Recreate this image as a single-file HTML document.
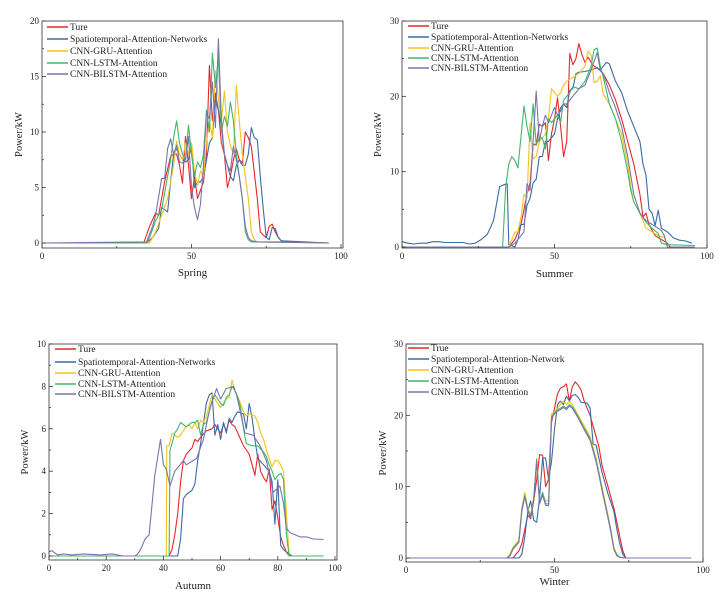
<!DOCTYPE html>
<html><head><meta charset="utf-8">
<style>
html,body{margin:0;padding:0;background:#fff;}
svg{display:block;font-family:"Liberation Serif",serif;}
</style></head>
<body>
<svg id="chart" width="727" height="594" viewBox="0 0 727 594" xmlns="http://www.w3.org/2000/svg"></svg>
<script>
// ---------- data (x = time index, y = power kW) ----------
const seriesNames = ["Ture","Spatiotemporal-Attention-Networks","CNN-GRU-Attention","CNN-LSTM-Attention","CNN-BILSTM-Attention"];
const winterNames = ["True","Spatiotemporal-Attention-Network","CNN-GRU-Attention","CNN-LSTM-Attention","CNN-BILSTM-Attention"];
const seriesColors = ["#e8262a","#3b6ba5","#f5c21b","#3fb86b","#7b74ac"];

// Spring
const springTrueX = [0,34,36,38,39,41,43,44,45,46,47,48,49,50,51,52,54,55,56,57,58,59,60,61,62,63,64,65,66,67,68,69,70,72,73,74,75,76,77,78,79,80,82,96];
const springTrueY = [0,0,1.5,2.7,2.5,5.5,7.8,8,8,7,5.4,9.6,7,4,6,4,5.5,8,16,11,13.5,12,9,8,5,6,7.5,8.5,7.5,7.2,10,9.5,8.7,4,1,0.7,0.5,1.5,1.7,1,0.5,0.2,0.1,0];
const springSTANX = [0,35,37,39,40,41,42,43,44,45,46,47,48,49,50,51,52,53,54,55,56,57,58,59,60,61,62,63,64,65,66,67,68,69,70,71,72,73,74,75,76,77,78,79,80,96];
const springSTANY = [0,0,0.5,1.3,3.2,3,2.8,5.5,8,8.5,8,7.5,7.3,7.5,9,5,5.5,5.5,6,7.5,9,9.5,13,12,10.5,8,7,6,5.6,7,7.5,7,7,8,10.4,9.5,9.3,6,3,0.5,0.3,1.4,1.3,0.5,0.2,0];
const springGRUX = [0,36,38,40,42,44,45,46,47,48,49,50,51,52,53,54,55,56,57,58,59,60,61,62,63,64,65,66,67,68,69,70,71,72,96];
const springGRUY = [0,0,1,2.5,4,7,9.2,8,7.5,9,8,9,6.5,5.2,6.5,6,9,11,9.5,15.5,13,11,13.7,10,8.8,8,14.2,11,8,6,4,1,0.3,0.1,0];
const springLSTMX = [0,35,36,38,40,42,43,44,45,46,47,48,49,50,51,52,53,54,55,56,57,58,59,60,61,62,63,64,65,66,67,68,69,70,82];
const springLSTMY = [0,0,0.5,2,3,6,7.5,9.5,11,9,8,7.5,10.6,8,6,7.3,6.8,8,12,10,17.1,14,16.8,10,11.4,10.5,12.7,11,8,6,4,1,0.3,0.1,0.1];
const springBiX = [0,35,37,38,40,41,42,43,44,45,46,47,48,49,50,51,52,53,54,55,56,57,58,59,60,61,62,63,64,65,66,67,68,69,70,72,96];
const springBiY = [0,0.1,1.5,2.5,5.8,5.8,8.5,9.4,8,8.8,7.3,7.2,7.5,9.6,5,3.2,2.1,3.5,7,11.7,11.2,14.5,10.4,18.4,11,8,7,6.5,8.7,7.5,6,4,1.5,0.5,0.2,0.1,0];

// Summer
const summerTrueX = [0,35,37,39,40,41,42,43,44,45,46,47,48,49,50,51,52,53,54,55,56,57,58,59,60,61,62,63,64,66,68,70,72,74,76,78,79,80,81,83,85,87,88,96];
const summerTrueY = [0,0,1,3,5,7,8.5,13.7,13.5,16.3,16,16.5,11.5,15,17,19.8,16,12,14,25.7,24.2,25,27,25.5,24.5,25.2,24.5,24,23.8,23,21.5,19.5,17,14,11,7,4,4.5,3,1.5,1,0.5,0,0];
const summerSTANX = [0,2,4,6,8,10,12,14,16,18,20,22,24,26,28,30,32,33,34.5,35,37,38,39,40,41,42,43,44,45,46,47,48,49,50,51,52,53,54,55,56,57,58,60,62,64,65,67,68,70,72,74,76,78,79,80,81,82,83,84,85,87,89,91,93,95];
const summerSTANY = [0.7,0.5,0.4,0.5,0.5,0.7,0.7,0.6,0.6,0.6,0.6,0.4,0.5,1,1.7,3.5,8,8.2,8.4,0.3,0,1,3,3,5.5,6.5,8.5,9,12,12,14,14,14.5,15,17,18.5,19,18.5,20.8,21,23,23.2,23.3,23.5,23.8,23.5,24.5,24.3,22,20.5,18,16,14,11,9.5,5,4.5,2.8,4.9,2.5,2,1.2,0.9,0.8,0.5];
const summerGRUX = [0,35,36,37,38,39,40,41,42,43,44,45,46,47,48,49,50,51,52,53,54,56,58,60,61,62,63,64,65,66,68,70,72,74,75,76,78,80,82,84,86,87,96];
const summerGRUY = [0,0,1,2,2,4,7,6.5,16.5,11.7,12,14,14.5,15,17,21,20.5,20,20.5,21.5,22,22.5,23,24,26,25.5,21.8,22,22.7,20.3,19,17,15,11,8,6,4.5,2.5,2,1.5,1.3,0,0];
const summerLSTMX = [0,33,34,35,36,37,38,40,41,42,43,44,45,46,47,48,49,50,51,52,53,54,55,56,58,60,62,63,64,65,66,68,70,72,74,75,76,78,80,82,84,85,87,96];
const summerLSTMY = [0,0,8,11,12,11.5,10.5,18.7,16,14,19,13.5,14.5,14.5,13,17,16.5,17,17.5,16.5,19.5,20,20.5,21.3,21,22,24,26.2,26.4,24,22.5,19,17,14,10,7.5,6,4.5,3.3,2.5,1.8,0.5,0.3,0.2];
const summerBiX = [0,35,37,40,41,42,44,45,46,47,48,49,50,51,52,53,54,55,56,57,58,60,62,64,65,66,68,70,72,74,76,78,80,82,84,85,86,87,96];
const summerBiY = [0,0,0.5,2,8.4,7.5,20.7,14,16,17.5,16.5,17.5,18.5,17.5,18,19,19,19.5,20,20.5,21,21.5,23.5,25.8,23.5,23,20.5,18.5,16,12,7,4.5,3.5,3,2.5,2.2,1.5,0,0];

// Autumn
const autumnTrueX = [0,42,43,44,45,46,47,48,50,51,52,53,55,57,58,59,60,61,62,63,64,65,66,67,68,69,70,71,72,73,74,75,76,77,78,79,80,81,82,83,84,96];
const autumnTrueY = [0,0,0.3,1,2,3.5,4.5,4.8,5.1,5.5,5.4,5.6,5.9,6,6.2,6,5.8,6.2,5.9,6.4,6.2,6.1,5.8,5.5,5.2,5,4.8,4.3,3.8,4.8,4,3.7,3.5,4.1,2.2,2.6,1.8,0.9,0.5,0.2,0,0];
const autumnSTANX = [0,45,46,47,48,50,51,52,53,55,56,57,58,59,60,61,62,63,64,65,66,68,69,70,71,72,73,75,77,78,79,80,81,82,84,85,96];
const autumnSTANY = [0,0,0.8,2.7,2.9,3.1,3.4,4.5,5.3,7.2,7.6,7.7,5.7,6.2,5.5,6.3,5.8,6.5,6.3,6.6,6.8,6.7,6,7.2,6.5,5.5,4.6,4.3,4,3.5,1.5,3.6,0.5,0.3,0.1,0,0];
const autumnGRUX = [0,41,41.2,42,43,44,45,46,47,48,49,50,51,52,53,54,55,56,57,58,59,60,61,62,63,64,65,66,67,68,69,70,72,73,74,75,76,77,78,79,80,81,82,83,84,96];
const autumnGRUY = [0,0,5.2,5.2,5.8,5.7,5.6,5.7,5.9,6.1,6.2,6,6.3,6,6.4,6.3,6.6,7.1,7.6,7.4,7.2,7,7.2,7.4,7.5,8.3,7.8,7.5,7.2,6.8,6.6,6.7,6.6,6.3,5.8,5.5,5,4.6,4.2,4.5,4.5,4.3,4,2,0,0];
const autumnLSTMX = [0,42,42.3,43,44,45,46,47,48,49,50,51,52,53,54,55,56,57,58,59,60,61,62,63,64,65,66,67,68,69,71,73,75,76,77,78,79,80,81,82,83,84,96];
const autumnLSTMY = [0,0,5,5.3,5.8,6,6.3,6.2,6.1,6.2,6.3,6.3,6.4,5.7,6.2,6.3,6.8,7.3,7.6,7.4,7.2,7.1,7.5,7.6,8,7.8,7.5,7,6,5.3,5.2,5.2,4.9,4.7,4.3,4,3.6,3.8,3.9,3.6,1,0,0];
const autumnBiX = [0,1,2,3,5,8,12,18,22,26,30,31,32,33.6,35,37,39,40,41,42.3,44,47,48,51.6,54,56.3,58.6,60,62,64.5,65.6,68.5,71.4,73.8,76,78.4,80.7,82,83,84.3,87.8,90,92.4,96];
const autumnBiY = [0.2,0.25,0.15,0.05,0.1,0.05,0.1,0.05,0.1,0,0,0.1,0.3,0.8,1,3.8,5.5,4.3,4.1,3.3,4,4.5,4.3,4.6,5.5,7,7.9,7.4,7.9,8,7.6,5.8,5.7,5.2,4.5,3,3.3,2.5,1.3,1.1,0.9,0.9,0.8,0.78];

// Winter
const winterTrueX = [0,36,38,39,40,41,42,43,44,45,46,47,48,49,50,51,52,53,54,55,56,57,58,59,60,62,64,65,66,68,70,71,72,73,74,96];
const winterTrueY = [0,0,1,2,4,6,5.5,8,11,14.5,14.4,10,11,19,21,23,23.8,24,24.4,22,24,24.7,24.2,23.5,22,20,17,15.5,13,10,7,5,3,1,0,0];
const winterSTANX = [0,38,39,40,41,42,43,44,45,46,47,48,49,50,51,52,53,54,55,56,57,58,59,60,61,62,63,64,66,68,70,71,72,73,74,96];
const winterSTANY = [0,0,0.5,3,6.5,8,5.3,5,8.5,14,14,11,13.5,18,21.5,22,21.5,22.7,22,22.8,22.9,22.5,21.8,21.8,21.7,21,16,15.8,12,9,6.5,4,2,0.5,0,0];
const winterGRUX = [0,34,35,36,37,38,39,40,41,42,43,44,45,46,47,48,49,50,51,52,53,54,55,56,58,60,62,64,65,66,68,69,70,71,72,74,96];
const winterGRUY = [0,0,0.5,1.5,2,2.5,7,9.2,7,6,8.5,13.5,8,9,8,8,20.2,20.5,21,21.5,22,21.5,22,21.5,20,18.5,17,14,12,10,6,4,1.5,0.5,0.1,0,0];
const winterLSTMX = [0,34,35,36,37,38,39,40,41,42,43,44,45,46,47,48,49,50,51,52,53,54,55,56,58,60,62,64,65,66,68,69,70,71,72,74,96];
const winterLSTMY = [0,0,0.4,1.3,1.8,2.3,6.8,8.8,6.8,5.8,8.3,13.9,7.8,9.2,7.6,7.6,19.8,20.3,20.8,21,21.3,21,21.5,21.2,19.8,18.2,16.7,13.7,11.8,9.7,5.8,3.8,1.3,0.4,0.1,0,0];
const winterBiX = [0,34,35,36,37,38,39,40,41,42,43,44,45,46,47,48,49,50,51,52,53,54,55,56,58,60,62,64,65,66,68,69,70,71,72,74,96];
const winterBiY = [0,0,0.3,1.2,1.7,2.2,6.5,8.6,6.6,5.6,8.1,13.6,7.6,8.8,7.4,7.3,19.5,20.2,20.6,20.8,21.1,20.8,21.3,21,19.6,18,16.5,13.5,11.6,9.5,5.6,3.6,1.2,0.3,0.1,0,0];

const springYTicks = [0,5,10,15,20];
const summerYTicks = [0,10,20,30];
const autumnYTicks = [0,2,4,6,8,10];
const winterYTicks = [0,10,20,30];
const springXTicks = [0,50,100];
const autumnXTicks = [0,20,40,60,80,100];

// ---------- drawing ----------
const NS = "http://www.w3.org/2000/svg";
const svg = document.getElementById("chart");
function mk(tag, attrs, parent){
  const e = document.createElementNS(NS, tag);
  for (const k in attrs) e.setAttribute(k, attrs[k]);
  (parent||svg).appendChild(e);
  return e;
}

function panel(cfg){
  const g = mk("g", {});
  
  
  const sx = v => cfg.x0 + (v / 100) * (cfg.x100 - cfg.x0);
  const sy = v => cfg.y0 - (v / cfg.ymax) * (cfg.y0 - cfg.ytop);

  for (let i = 0; i < cfg.series.length; i++){
    const xs = cfg.series[i][0], ys = cfg.series[i][1];
    let d = "";
    for (let j = 0; j < xs.length; j++) d += (j ? "L" : "M") + sx(xs[j]).toFixed(1) + " " + sy(ys[j]).toFixed(1);
    const p = mk("path", {d: d, fill: "none", stroke: seriesColors[i], "stroke-width": 1.1, "stroke-linejoin": "round"}, g);
    
    
  }

  const fr = mk("rect", {x: cfg.x0, y: cfg.ytop, width: cfg.boxR - cfg.x0, height: cfg.boxB - cfg.ytop, fill: "none", stroke: "#333", "stroke-width": 0.8}, g);
  
  

  for (let k = 0; k < cfg.yticks.length; k++){
    const v = cfg.yticks[k], y = sy(v);
    mk("line", {x1: cfg.x0, x2: cfg.x0 + 4, y1: y, y2: y, stroke: "#333", "stroke-width": 0.8}, g);
    if (k < cfg.yticks.length - 1){
      const ym = sy(v + (cfg.yticks[1] - cfg.yticks[0]) / 2);
      mk("line", {x1: cfg.x0, x2: cfg.x0 + 2, y1: ym, y2: ym, stroke: "#333", "stroke-width": 0.8}, g);
    }
    const t = mk("text", {x: cfg.x0 - 3, y: y + 3, "font-size": 9, "text-anchor": "end", fill: "#222"}, g);
    t.textContent = v;
    
    
  }
  for (let k = 0; k < cfg.xticks.length; k++){
    const v = cfg.xticks[k], x = sx(v);
    mk("line", {x1: x, x2: x, y1: cfg.boxB, y2: cfg.boxB - 4, stroke: "#333", "stroke-width": 0.8}, g);
    if (k < cfg.xticks.length - 1){
      const xm = sx(v + (cfg.xticks[1] - cfg.xticks[0]) / 2);
      mk("line", {x1: xm, x2: xm, y1: cfg.boxB, y2: cfg.boxB - 2, stroke: "#333", "stroke-width": 0.8}, g);
    }
    const t = mk("text", {x: x, y: cfg.boxB + 11, "font-size": 9, "text-anchor": "middle", fill: "#222"}, g);
    t.textContent = v;
    
    
  }
  const xt = mk("text", {x: (cfg.x0 + cfg.boxR) / 2, y: cfg.xTitleY, "font-size": 11, "text-anchor": "middle", fill: "#222"}, g);
  xt.textContent = cfg.xtitle;
  
  
  const yc = (cfg.ytop + cfg.boxB) / 2;
  const yt = mk("text", {x: cfg.yTitleX, y: yc, "font-size": 10.5, "text-anchor": "middle", fill: "#222", transform: "rotate(-90 " + cfg.yTitleX + " " + yc + ")"}, g);
  yt.textContent = cfg.ytitle;
  
  

  for (let i = 0; i < cfg.names.length; i++){
    const y = cfg.legY[i];
    const ln = mk("line", {x1: cfg.legX, x2: cfg.legX + 21, y1: y, y2: y, stroke: seriesColors[i], "stroke-width": 1.5}, g);
    
    
    const t = mk("text", {x: cfg.legX + 23, y: y + 3.2, "font-size": 9.5, fill: "#222"}, g);
    t.textContent = cfg.names[i];
    
    
  }
}

panel({key: "spring", x0: 42, x100: 341, boxR: 343, ytop: 21, y0: 243, boxB: 248, ymax: 20,
  yticks: springYTicks, xticks: springXTicks, xtitle: "Spring", ytitle: "Power/kW", xTitleY: 276, yTitleX: 22,
  names: seriesNames, legX: 47, legY: [27, 39, 51, 63, 74],
  series: [[springTrueX, springTrueY],[springSTANX, springSTANY],[springGRUX, springGRUY],[springLSTMX, springLSTMY],[springBiX, springBiY]]});
panel({key: "summer", x0: 402, x100: 707, boxR: 707, ytop: 21, y0: 247, boxB: 248, ymax: 30,
  yticks: summerYTicks, xticks: springXTicks, xtitle: "Summer", ytitle: "Power/kW", xTitleY: 277, yTitleX: 381,
  names: seriesNames, legX: 408, legY: [26, 37, 48, 58, 68],
  series: [[summerTrueX, summerTrueY],[summerSTANX, summerSTANY],[summerGRUX, summerGRUY],[summerLSTMX, summerLSTMY],[summerBiX, summerBiY]]});
panel({key: "autumn", x0: 49, x100: 335, boxR: 337, ytop: 344, y0: 556, boxB: 560, ymax: 10,
  yticks: autumnYTicks, xticks: autumnXTicks, xtitle: "Autumn", ytitle: "Power/kW", xTitleY: 589, yTitleX: 28,
  names: seriesNames, legX: 55, legY: [349, 362, 373, 384, 394],
  series: [[autumnTrueX, autumnTrueY],[autumnSTANX, autumnSTANY],[autumnGRUX, autumnGRUY],[autumnLSTMX, autumnLSTMY],[autumnBiX, autumnBiY]]});
panel({key: "winter", x0: 406, x100: 703, boxR: 703, ytop: 344, y0: 558, boxB: 562, ymax: 30,
  yticks: winterYTicks, xticks: springXTicks, xtitle: "Winter", ytitle: "Power/kW", xTitleY: 585, yTitleX: 386,
  names: winterNames, legX: 408, legY: [348, 359, 370, 381, 392],
  series: [[winterTrueX, winterTrueY],[winterSTANX, winterSTANY],[winterGRUX, winterGRUY],[winterLSTMX, winterLSTMY],[winterBiX, winterBiY]]});
</script>
</body></html>
